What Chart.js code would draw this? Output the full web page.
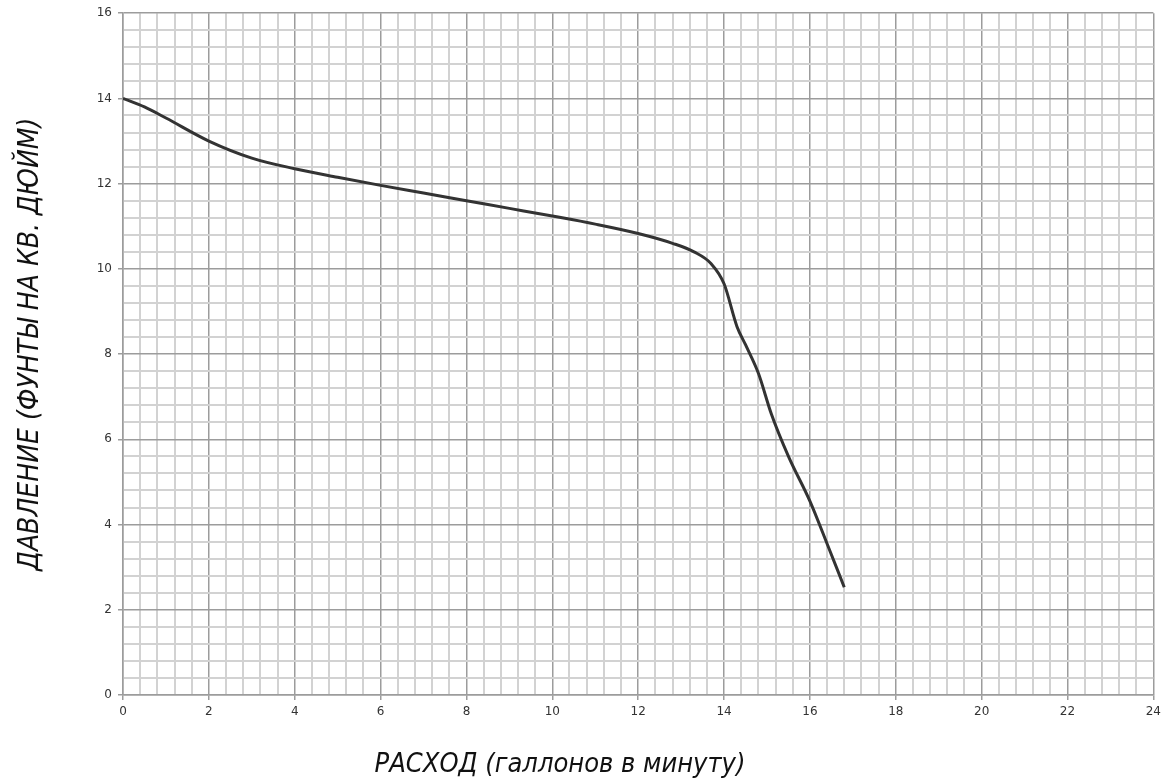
<!DOCTYPE html>
<html><head><meta charset="utf-8">
<script src="https://cdn.jsdelivr.net/npm/chart.js@4/dist/chart.umd.min.js"></script>
<style>html,body{margin:0;padding:0;background:#fff}#wrap{width:1166px;height:783px}</style>
</head><body><div id="wrap"><canvas id="c"></canvas></div>
<script>
const flowGpm = [0, 0.5, 1, 2, 3, 4, 5, 6, 7, 8, 9, 10, 11, 12, 12.8, 13.3, 13.7, 14.0, 14.3, 14.5, 14.8, 15.1, 15.5, 16.0, 16.4, 16.8];
const pressurePsi = [14, 13.8, 13.54, 13.0, 12.6, 12.35, 12.15, 11.96, 11.78, 11.6, 11.42, 11.24, 11.05, 10.83, 10.6, 10.4, 10.12, 9.65, 8.65, 8.22, 7.55, 6.6, 5.6, 4.55, 3.55, 2.53];
const xTitle = 'РАСХОД (галлонов в минуту)';
const yTitle = 'ДАВЛЕНИЕ (ФУНТЫ НА КВ. ДЮЙМ)';
const xMax = 24, yMax = 16, minorStep = 0.4, majorStep = 2;

const isMajor = v => Math.abs(v / majorStep - Math.round(v / majorStep)) < 1e-6;
const gridCfg = {
  color: c => isMajor(c.tick.value) ? '#9c9c9c' : '#d2d2d2',
  lineWidth: c => isMajor(c.tick.value) ? 1.5 : 2,
  tickColor: c => isMajor(c.tick.value) ? '#9c9c9c' : 'rgba(0,0,0,0)',
  tickLength: 5,
  drawTicks: true
};
const tickFont = {family: 'DejaVu Sans', size: 12};
const titleFamily = "'Liberation Sans Narrow', 'DejaVu Sans Condensed', 'Liberation Sans', sans-serif";

const axisTitles = {
  id: 'axisTitles',
  afterDraw(chart) {
    const {ctx, chartArea: a} = chart;
    ctx.save();
    ctx.fillStyle = '#111';
    ctx.textAlign = 'center';
    ctx.textBaseline = 'alphabetic';
    ctx.font = 'italic 27px ' + titleFamily;
    ctx.fillText(xTitle, a.left + 437, a.bottom + 77);
    ctx.translate(a.left - 85, a.top + 331);
    ctx.rotate(-Math.PI / 2);
    ctx.font = 'italic 28px ' + titleFamily;
    ctx.fillText(yTitle, 0, 0);
    ctx.restore();
  }
};

new Chart(document.getElementById('c'), {
  type: 'scatter',
  data: {datasets: [{
    data: flowGpm.map((x, i) => ({x, y: pressurePsi[i]})),
    showLine: true, borderColor: '#333333', borderWidth: 3,
    pointRadius: 0, cubicInterpolationMode: 'monotone', fill: false
  }]},
  plugins: [axisTitles],
  options: {
    responsive: true, maintainAspectRatio: false, animation: false,
    layout: {padding: {top: 12, right: 12, left: 0, bottom: 0}},
    plugins: {legend: {display: false}, tooltip: {enabled: false}},
    scales: {
      x: {
        type: 'linear', min: 0, max: xMax,
        ticks: {stepSize: minorStep, autoSkip: false, maxRotation: 0, color: '#333', font: tickFont, padding: 5,
          callback: v => isMajor(v) ? String(Math.round(v)) : ''},
        grid: gridCfg,
        border: {color: '#9c9c9c', width: 1.5},
        afterFit: s => { s.height = 88; }
      },
      y: {
        type: 'linear', min: 0, max: yMax,
        ticks: {stepSize: minorStep, autoSkip: false, color: '#333', font: tickFont, padding: 6,
          callback: v => isMajor(v) ? String(Math.round(v)) : ''},
        grid: gridCfg,
        border: {color: '#9c9c9c', width: 1.5},
        afterFit: s => { s.width = 123; }
      }
    }
  }
});
</script></body></html>
